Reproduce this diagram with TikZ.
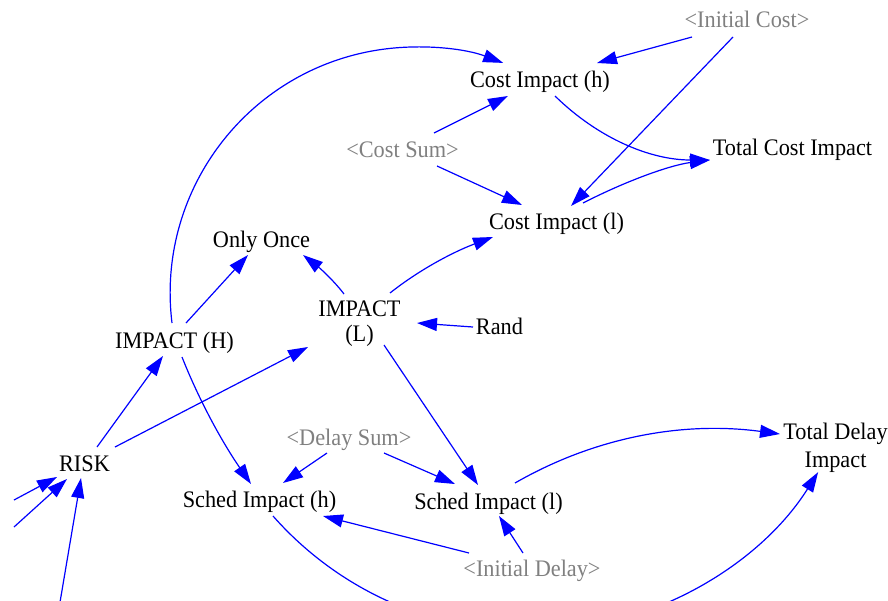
\documentclass[tikz,border=0pt]{standalone}
\usepackage{fontspec}
\setmainfont{Liberation Serif}[FakeStretch=0.94]
\usetikzlibrary{arrows.meta,calc}
\definecolor{linkblue}{RGB}{0,0,255}
\definecolor{shadowgray}{RGB}{128,128,128}
\begin{document}
\begin{tikzpicture}[x=1pt,y=1pt,
  var/.style={inner sep=0pt, anchor=base, font=\fontsize{23.7}{26}\selectfont, text=black},
  shadowvar/.style={var, text=shadowgray},
  link/.style={draw=linkblue, line width=1.2pt, -{Triangle[length=20pt,width=13pt]}}]
\useasboundingbox (0,0) rectangle (888,-600);
\clip (0,0) rectangle (888,-600);

% variables (two-line nodes sit on the baseline of their last line)
\node[shadowvar] (ic) at (747,-27) {<Initial Cost>};
\node[var] (cih) at (540,-87) {Cost Impact (h)};
\node[shadowvar] (cs) at (402.5,-157) {<Cost Sum>};
\node[var] (tci) at (792.5,-155) {Total Cost Impact};
\node[var] (cil) at (556.5,-229) {Cost Impact (l)};
\node[var] (oo) at (261.5,-247) {Only Once};
\node[var, align=center] (il) at (359.5,-341) {IMPACT\\[-1.7pt](L)};
\node[var] (rand) at (499.5,-334) {Rand};
\node[var] (ih) at (174.5,-348) {IMPACT (H)};
\node[var] (risk) at (84.5,-471) {RISK};
\node[shadowvar] (ds) at (349,-445) {<Delay Sum>};
\node[var] (sih) at (259.5,-507) {Sched Impact (h)};
\node[var] (sil) at (488.5,-509) {Sched Impact (l)};
\node[var, align=center] (tdi) at (835.5,-467) {Total Delay\\[2pt]Impact};
\node[shadowvar] (idl) at (532,-576) {<Initial Delay>};

% loose ends of the inputs to RISK
\coordinate (src1) at (14,-500);
\coordinate (src2) at (14,-527);
\coordinate (src3) at (57,-620);

% cost side
\draw[link] ($(ih.base)+(-2.5,25)$) arc[start angle=187, end angle=69.3, radius=246pt];
\draw[link] ($(ic.base)+(-55,-10)$) -- ($(cih.base)+(57,24)$);
\draw[link] ($(ic.base)+(-14,-10)$) -- ($(cil.base)+(14.5,23)$);
\draw[link] ($(cs.base)+(31.5,24)$) -- ($(cih.base)+(-32,-9)$);
\draw[link] ($(cs.base)+(34.5,-9)$) -- ($(cil.base)+(-34.5,24)$);
\draw[link] ($(cih.base)+(15,-9)$) .. controls +(44,-43) and +(-59,0) .. ($(tci.base)+(-82.5,-5)$);
\draw[link] ($(cil.base)+(26.5,26)$) .. controls +(45,23) and +(-39,-5) .. ($(tci.base)+(-82.5,-5)$);

% impact core
\draw[link] ($(ih.base)+(11.5,25)$) -- ($(oo.base)+(-13.5,-8)$);
\draw[link] ($(il.base)+(-15.5,47)$) .. controls +(-9,12) and +(18,-14) .. ($(oo.base)+(41.5,-8)$);
\draw[link] ($(il.base)+(30.5,48)$) .. controls +(29,23) and +(-40,-15) .. ($(cil.base)+(-63.5,-8)$);
\draw[link] ($(rand.base)+(-26.5,7)$) -- ($(il.base)+(57.5,18)$);
\draw[link] ($(risk.base)+(12.5,24)$) -- ($(ih.base)+(-11.5,-8)$);
\draw[link] ($(risk.base)+(30.5,24)$) -- ($(il.base)+(-51.5,-6)$);
\draw[link] (src1) -- ($(risk.base)+(-27.5,-6)$);
\draw[link] (src2) -- ($(risk.base)+(-17.5,-8)$);
\draw[link] (src3) -- ($(risk.base)+(-3.5,-7)$);

% schedule side
\draw[link] ($(il.base)+(24.5,-4)$) -- ($(sil.base)+(-10.5,24)$);
\draw[link] ($(ih.base)+(7.5,-9)$) .. controls +(17,-43) and +(-29,42) .. ($(sih.base)+(-8.5,23)$);
\draw[link] ($(ds.base)+(-22,-8)$) -- ($(sih.base)+(23.5,24)$);
\draw[link] ($(ds.base)+(35,-8)$) -- ($(sil.base)+(-33.5,25)$);
\draw[link] ($(idl.base)+(-63,23)$) -- ($(sih.base)+(63.5,-9)$);
\draw[link] ($(idl.base)+(-9,23)$) -- ($(sil.base)+(10.5,-7)$);
\draw[link] ($(sil.base)+(26.5,26)$) .. controls +(80,46) and +(-97,13) .. ($(tdi.base)+(-55.5,33)$);
\draw[link] ($(sih.base)+(13.5,-9)$) arc[start angle=221.4, end angle=327.8, radius=341.5pt];
\end{tikzpicture}
\end{document}
